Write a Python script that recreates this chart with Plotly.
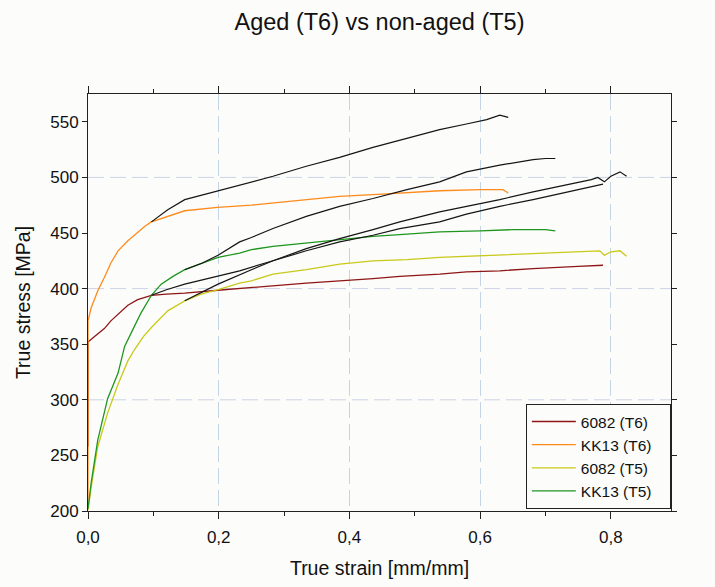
import plotly.graph_objects as go

# ---------------- data ----------------
red_strain = [0, 0, 0.01, 0.025, 0.035, 0.046, 0.061, 0.076, 0.087, 0.097, 0.12, 0.148, 0.199, 0.25,
              0.334, 0.436, 0.477, 0.538, 0.579, 0.63, 0.681, 0.75, 0.788]
red_stress = [258, 352, 357, 364, 371, 377, 385, 390, 392, 394, 395, 396, 398.5, 401,
              405, 409, 411, 413, 415, 416, 418, 420, 421]

orange_strain = [0, 0, 0.005, 0.015, 0.025, 0.035, 0.046, 0.061, 0.071, 0.087, 0.097, 0.122, 0.148,
                 0.198, 0.25, 0.3, 0.385, 0.45, 0.538, 0.6, 0.635, 0.643]
orange_stress = [205, 371, 383, 398, 410, 423, 434, 443, 448, 456, 460, 465, 470,
                 473, 475, 478, 483, 485, 488, 489, 489, 486]

yellow_strain = [0, 0.005, 0.015, 0.030, 0.046, 0.061, 0.071, 0.085, 0.097, 0.122, 0.148, 0.173, 0.199,
                 0.232, 0.25, 0.283, 0.334, 0.385, 0.436, 0.488, 0.538, 0.579, 0.681, 0.75, 0.783,
                 0.79, 0.80, 0.814, 0.824]
yellow_stress = [201, 222, 258, 288, 314, 335, 345, 357, 365, 380, 389, 395, 399,
                 405, 407, 413, 417, 422, 425, 426, 428, 429, 432, 433, 434,
                 430, 433, 434, 429]

green_strain = [0, 0.005, 0.015, 0.030, 0.046, 0.056, 0.071, 0.081, 0.097, 0.112, 0.13, 0.148, 0.175,
                0.199, 0.232, 0.25, 0.283, 0.334, 0.385, 0.436, 0.488, 0.538, 0.6, 0.65, 0.70, 0.715]
green_stress = [202, 226, 264, 301, 324, 348, 366, 378, 394, 404, 411, 417, 423,
                428, 432, 435, 438, 441, 444, 447, 449, 451, 452, 453, 453, 452]

# black companion curves (not in legend)
blk_orange_strain = [0.097, 0.11, 0.122, 0.148, 0.198, 0.232, 0.283, 0.334, 0.385, 0.436, 0.488,
                     0.538, 0.579, 0.61, 0.63, 0.643]
blk_orange_stress = [460, 466, 471, 480, 488, 493, 501, 510, 518, 527, 535,
                     543, 548, 552, 556, 554]

blk_green_strain = [0.148, 0.175, 0.199, 0.232, 0.25, 0.283, 0.334, 0.385, 0.436, 0.488, 0.538,
                    0.579, 0.63, 0.681, 0.70, 0.715]
blk_green_stress = [417, 423, 430, 442, 446, 454, 465, 474, 481, 489, 496,
                    505, 511, 516, 517, 517]

blk_yellow_strain = [0.148, 0.173, 0.199, 0.25, 0.283, 0.334, 0.385, 0.436, 0.477, 0.538, 0.579,
                     0.63, 0.681, 0.732, 0.77, 0.78, 0.79, 0.80, 0.814, 0.824]
blk_yellow_stress = [389, 396, 404, 417, 425, 436, 445, 453, 460, 469, 474,
                     480, 487, 493.5, 498, 500, 496, 501, 505, 501]

blk_red_strain = [0.097, 0.12, 0.148, 0.199, 0.232, 0.283, 0.334, 0.385, 0.436, 0.477, 0.538,
                  0.579, 0.63, 0.681, 0.732, 0.788]
blk_red_stress = [394, 399, 404, 411, 416, 425, 434, 442, 448, 454, 460,
                  467, 474, 480, 487, 494]

legend_names = ["6082 (T6)", "KK13 (T6)", "6082 (T5)", "KK13 (T5)"]
x_ticks = [0.0, 0.2, 0.4, 0.6, 0.8]
x_tick_labels = ["0,0", "0,2", "0,4", "0,6", "0,8"]
y_ticks = [200, 250, 300, 350, 400, 450, 500, 550]
y_grid = [300, 400, 500]

# ---------------- figure ----------------
FONT = "Liberation Sans, Arial, sans-serif"
fig = go.Figure()

colored = [
    (red_strain, red_stress, "#8e1616"),
    (orange_strain, orange_stress, "#ff8a1c"),
    (yellow_strain, yellow_stress, "#c9c91a"),
    (green_strain, green_stress, "#1f961f"),
]
PAD = "\u00a0\u00a0\u00a0"
for (xs, ys, col), name in zip(colored, legend_names):
    fig.add_trace(go.Scatter(x=xs, y=ys, mode="lines", name=name + PAD,
                             line=dict(color=col, width=1.3)))

for xs, ys in [(blk_orange_strain, blk_orange_stress), (blk_green_strain, blk_green_stress),
               (blk_yellow_strain, blk_yellow_stress), (blk_red_strain, blk_red_stress)]:
    fig.add_trace(go.Scatter(x=xs, y=ys, mode="lines", showlegend=False,
                             line=dict(color="#151515", width=1.2)))

for gy in y_grid:
    fig.add_shape(type="line", xref="paper", x0=0, x1=1, yref="y", y0=gy, y1=gy,
                  line=dict(color="#cdd3e6", width=1, dash="16px,6px"), layer="below")

bg = "#fcfcfa"
fig.update_layout(
    width=715, height=587,
    margin=dict(l=88, r=44, t=94, b=72),
    paper_bgcolor=bg, plot_bgcolor=bg,
    font=dict(family=FONT, color="#111111"),
    title=dict(text="Aged (T6) vs non-aged (T5)", x=0.5, xref="paper", xanchor="center",
               y=1 - 22 / 587, yanchor="middle", font=dict(size=23.5, family=FONT, color="#111111")),
    xaxis=dict(range=[0, 0.892], tickvals=x_ticks, ticktext=x_tick_labels,
               showgrid=True, gridcolor="#c6d5e6", griddash="16px,6px", gridwidth=1,
               zeroline=False, showline=True, linecolor="#222222", linewidth=1, mirror="ticks",
               ticks="outside", ticklen=7, tickcolor="#222222",
               minor=dict(dtick=0.1, ticks="outside", ticklen=4, tickcolor="#222222", showgrid=False),
               tickfont=dict(size=17, family=FONT), ticklabelstandoff=4,
               title=dict(text="True strain [mm/mm]", font=dict(size=19.5, family=FONT), standoff=14)),
    yaxis=dict(range=[200, 575], tickvals=y_ticks,
               showgrid=False, zeroline=False, showline=True, linecolor="#222222", linewidth=1,
               mirror="ticks", ticks="outside", ticklen=5, tickcolor="#222222",
               tickfont=dict(size=17, family=FONT),
               title=dict(text="True stress [MPa]", font=dict(size=19.5, family=FONT), standoff=14)),
    legend=dict(x=0.751, y=0.005, xanchor="left", yanchor="bottom",
                bgcolor=bg, bordercolor="#222222", borderwidth=1,
                font=dict(size=15.5, family=FONT), tracegroupgap=0, itemwidth=44),
    showlegend=True,
)

fig.write_html("out.html", config={"displayModeBar": False},
               post_script="document.body.style.margin='0';document.body.style.background='#fcfcfa';")
